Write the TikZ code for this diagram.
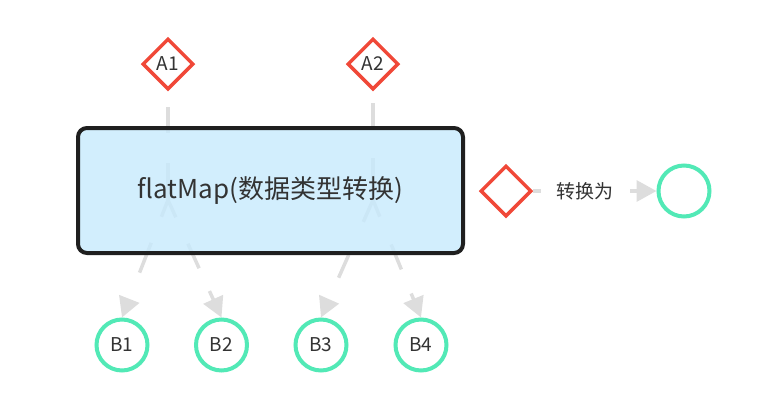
\documentclass[tikz,border=0pt]{standalone}
\usepackage{fontspec}
\newfontfamily\cjk{Noto Sans CJK SC}
\usetikzlibrary{shapes.geometric,arrows.meta}
\definecolor{dred}{HTML}{F04838}
\definecolor{mint}{HTML}{52E9B6}
\definecolor{lgray}{HTML}{DDDDDD}
\definecolor{boxfill}{RGB}{199,234,253}
\definecolor{boxline}{HTML}{1F1F1F}
\definecolor{txt}{HTML}{333333}
\begin{document}
\begin{tikzpicture}[x=1pt,y=-1pt,
  lbl/.style={font=\cjk\fontsize{19}{22}\selectfont, text=txt},
  dia/.style={diamond, draw=dred, line width=3.5pt, fill=white, minimum width=51pt, minimum height=51pt, inner sep=0pt, lbl},
  circ/.style={circle, draw=mint, line width=4pt, fill=white, minimum size=51pt, inner sep=0pt, lbl},
  conn/.style={draw=lgray, line width=3.5pt},
  tipped/.style={-{Triangle[length=20pt,width=21pt]}},
  mainbox/.style={rectangle, rounded corners=9pt, draw=boxline, line width=4pt, fill=boxfill, fill opacity=0.8, text opacity=1, minimum width=385pt, minimum height=125pt, font=\cjk\fontsize{26}{30}\selectfont, text=txt}
]
\useasboundingbox (0,0) rectangle (772,405);
\node[dia] (A1) at (168,64) {A1};
\node[dia] (A2) at (373,64) {A2};
\coordinate (s1) at (168,200);
\coordinate (s2) at (373,200);
\node[circ] (B1) at (122,345) {B1};
\node[circ] (B2) at (221.5,345) {B2};
\node[circ] (B3) at (321,345) {B3};
\node[circ] (B4) at (421,345) {B4};

\draw[conn, dash pattern=on 26pt off 30pt on 37pt off 100pt, dash phase=177pt] (A1) -- (s1);
\draw[conn, dash pattern=on 25pt off 30pt on 42pt off 100pt, dash phase=185pt] (A2) -- (s2);
\draw[conn, tipped, dash pattern=on 18pt off 28pt on 32pt off 300pt] (s1) -- (B1.north);
\draw[conn, tipped, dash pattern=on 19pt off 29pt on 27pt off 25pt on 40pt off 300pt] (s1) -- (B2.north);
\draw[conn, tipped, dash pattern=on 24pt off 36pt on 25pt off 300pt] (s2) -- (B3.north);
\draw[conn, tipped, dash pattern=on 18pt off 30pt on 27pt off 26pt on 40pt off 300pt] (s2) -- (B4.north);

\node[mainbox] (box) at (270.5,190.5) {flatMap(数据类型转换)};

\node[dia] (D) at (506,191) {};
\node[circ] (C) at (684,191) {};
\draw[conn, tipped] (D) -- node[pos=0.42, fill=white, inner xsep=16pt, lbl] (t) {转换为} (C);
\end{tikzpicture}
\end{document}
